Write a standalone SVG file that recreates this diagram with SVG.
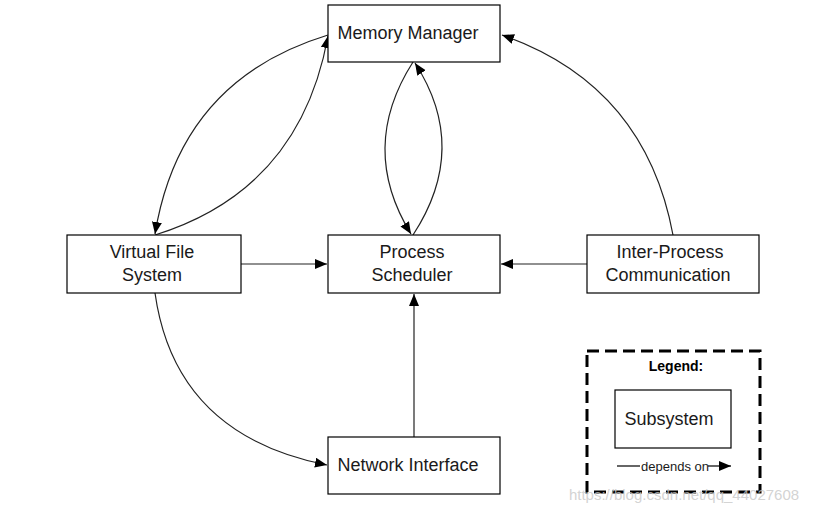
<svg xmlns="http://www.w3.org/2000/svg" width="815" height="514" viewBox="0 0 815 514">
<style>
.box{fill:#fff;stroke:#000;stroke-width:1.2}
.t{font-family:"Liberation Sans",Arial,sans-serif;font-size:18px;fill:#1a1a1a;text-anchor:middle}
.c{fill:none;stroke:#222;stroke-width:1.2}
</style>
<defs>
<marker id="ah" markerUnits="userSpaceOnUse" markerWidth="14" markerHeight="12" refX="12" refY="5" orient="auto">
<path d="M0,0 L12,5 L0,10 Z" fill="#000"/>
</marker>
</defs>
<rect width="815" height="514" fill="#fff"/>
<g id="connectors">
<path class="c" d="M241 264 L327 264" marker-end="url(#ah)"/>
<path class="c" d="M587 264 L501 264" marker-end="url(#ah)"/>
<path class="c" d="M414 437 L414 294" marker-end="url(#ah)"/>
<path class="c" d="M155 293 Q175 435 327 465" marker-end="url(#ah)"/>
<path class="c" d="M673 235 Q645 85 502 35" marker-end="url(#ah)"/>
<path class="c" d="M413 62 Q358 148 411 234" marker-end="url(#ah)"/>
<path class="c" d="M413 235 Q470 148 415 63" marker-end="url(#ah)"/>
<path class="c" d="M328 35 Q180 80 155 234" marker-end="url(#ah)"/>
<path class="c" d="M155 235 Q300 190 328 36" marker-end="url(#ah)"/>
</g>
<g id="memory-manager">
<rect class="box" x="328" y="5" width="172" height="57"/>
<text class="t" x="408" y="39">Memory Manager</text>
</g>
<g id="virtual-file-system">
<rect class="box" x="67" y="235" width="174" height="58"/>
<text class="t" x="152" y="258">Virtual File</text>
<text class="t" x="152" y="281">System</text>
</g>
<g id="process-scheduler">
<rect class="box" x="328" y="235" width="172" height="58"/>
<text class="t" x="412" y="258">Process</text>
<text class="t" x="412" y="281">Scheduler</text>
</g>
<g id="ipc">
<rect class="box" x="587" y="235" width="172" height="58"/>
<text class="t" x="670" y="258">Inter-Process</text>
<text class="t" x="668" y="281">Communication</text>
</g>
<g id="network-interface">
<rect class="box" x="328" y="437" width="172" height="57"/>
<text class="t" x="408" y="471">Network Interface</text>
</g>
<g id="legend">
<rect x="587" y="351" width="173" height="141" fill="none" stroke="#000" stroke-width="3" stroke-dasharray="12,6"/>
<text x="676" y="371" font-family="Liberation Sans,Arial,sans-serif" font-size="14" font-weight="bold" text-anchor="middle" fill="#000">Legend:</text>
<rect class="box" x="615" y="390" width="116" height="58"/>
<text class="t" x="669" y="425">Subsystem</text>
<line x1="617" y1="466" x2="640" y2="466" stroke="#000" stroke-width="1.2"/>
<text x="675" y="471" font-family="Liberation Sans,Arial,sans-serif" font-size="13" text-anchor="middle" fill="#1a1a1a">depends on</text>
<line x1="708" y1="466" x2="731" y2="466" stroke="#000" stroke-width="1.2" marker-end="url(#ah)"/>
</g>
<text x="684" y="500" font-family="Liberation Sans,Arial,sans-serif" font-size="15" text-anchor="middle" fill="#c8c8c8" fill-opacity="0.8">https://blog.csdn.net/qq_44027608</text>
</svg>
